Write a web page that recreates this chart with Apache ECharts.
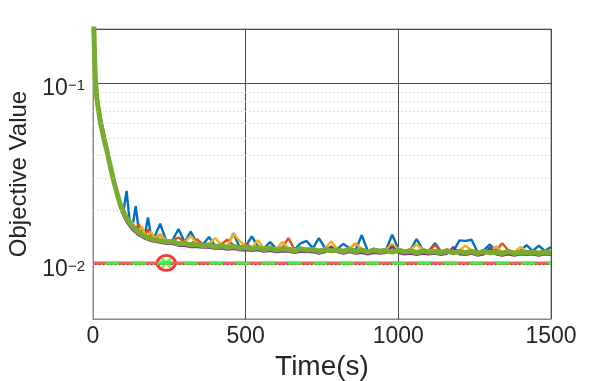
<!DOCTYPE html>
<html>
<head>
<meta charset="utf-8">
<script src="https://cdn.jsdelivr.net/npm/echarts@6/dist/echarts.min.js"></script>
<style>
  html, body { margin: 0; padding: 0; background: #fff; }
  #main { width: 609px; height: 381px; }
</style>
</head>
<body>
<div id="main"></div>
<script>
// 时间轴 (s)
var time = [0, 2, 4, 6, 8, 10, 13, 16, 20, 25, 30, 35, 40, 45, 50, 55, 60, 70, 80, 90,
  100, 110, 120, 130, 140, 150, 160, 170, 180, 190, 200,
  220, 240, 260, 280, 300, 320, 340, 360, 380, 400, 420, 440, 460, 480, 500, 520, 540, 560, 580, 600,
  620, 640, 660, 680, 700, 720, 740, 760, 780, 800, 820, 840, 860, 880, 900, 920, 940, 960, 980, 1000,
  1020, 1040, 1060, 1080, 1100, 1120, 1140, 1160, 1180, 1200, 1220, 1240, 1260, 1280, 1300,
  1320, 1340, 1360, 1380, 1400, 1420, 1440, 1460, 1480, 1500];

var blueVals = [0.32, 0.22, 0.17, 0.126, 0.105, 0.094, 0.083, 0.076, 0.069, 0.061, 0.056, 0.051, 0.047, 0.044, 0.040, 0.037, 0.034, 0.029, 0.0248, 0.0216,
  0.0198, 0.0255, 0.0174, 0.0165, 0.0210, 0.0153, 0.0150, 0.0147, 0.0182, 0.0143, 0.0140,
  0.0168, 0.0135, 0.0136, 0.0157, 0.0133, 0.0152, 0.0131, 0.0129, 0.0142, 0.0127,
  0.0129, 0.0126, 0.0149, 0.0125, 0.0126, 0.0143, 0.0126, 0.0123, 0.0133, 0.0122,
  0.0124, 0.0123, 0.0121, 0.0131, 0.0135, 0.0123, 0.0140, 0.0123, 0.0121, 0.0122,
  0.0130, 0.0123, 0.0120, 0.0145, 0.0119, 0.0122, 0.0120, 0.0121, 0.0146, 0.0122,
  0.0119, 0.0121, 0.0138, 0.0121, 0.0119, 0.0131, 0.0118, 0.0121, 0.0118, 0.0136,
  0.0135, 0.0137, 0.0117, 0.0120, 0.0129, 0.0119, 0.0117, 0.0120, 0.0117, 0.0119,
  0.0128, 0.0119, 0.0127, 0.0119, 0.0125];

var orangeVals = [0.32, 0.22, 0.17, 0.126, 0.105, 0.094, 0.083, 0.076, 0.069, 0.061, 0.056, 0.051, 0.047, 0.044, 0.040, 0.037, 0.034, 0.029, 0.0250, 0.0218,
  0.0196, 0.0184, 0.0176, 0.0163, 0.0156, 0.0168, 0.0148, 0.0145, 0.0156, 0.0141, 0.0139,
  0.0146, 0.0135, 0.0136, 0.0141, 0.0133, 0.0130, 0.0138, 0.0129, 0.0130, 0.0127,
  0.0129, 0.0137, 0.0128, 0.0125, 0.0130, 0.0124, 0.0126, 0.0123, 0.0125, 0.0122,
  0.0124, 0.0140, 0.0121, 0.0124, 0.0122, 0.0123, 0.0120, 0.0123, 0.0121, 0.0122,
  0.0120, 0.0123, 0.0130, 0.0122, 0.0119, 0.0122, 0.0120, 0.0121, 0.0119, 0.0122,
  0.0119, 0.0121, 0.0118, 0.0121, 0.0119, 0.0128, 0.0118, 0.0121, 0.0118, 0.0120,
  0.0118, 0.0120, 0.0117, 0.0120, 0.0118, 0.0119, 0.0131, 0.0120, 0.0117, 0.0119,
  0.0118, 0.0119, 0.0117, 0.0119, 0.0118];

var yellowVals = [0.32, 0.22, 0.175, 0.128, 0.107, 0.095, 0.084, 0.077, 0.070, 0.062, 0.057, 0.053, 0.049, 0.045, 0.041, 0.038, 0.034, 0.029, 0.0252, 0.0220,
  0.0200, 0.0186, 0.0172, 0.0170, 0.0158, 0.0154, 0.0162, 0.0147, 0.0144, 0.0152, 0.0140,
  0.0148, 0.0135, 0.0136, 0.0132, 0.0133, 0.0144, 0.0131, 0.0129, 0.0130, 0.0140,
  0.0129, 0.0126, 0.0148, 0.0135, 0.0126, 0.0124, 0.0136, 0.0123, 0.0125, 0.0122,
  0.0133, 0.0123, 0.0121, 0.0124, 0.0122, 0.0123, 0.0120, 0.0123, 0.0134, 0.0122,
  0.0120, 0.0123, 0.0131, 0.0122, 0.0119, 0.0122, 0.0120, 0.0121, 0.0130, 0.0122,
  0.0119, 0.0121, 0.0129, 0.0121, 0.0119, 0.0120, 0.0118, 0.0121, 0.0118, 0.0120,
  0.0127, 0.0120, 0.0117, 0.0120, 0.0118, 0.0126, 0.0117, 0.0120, 0.0117, 0.0125,
  0.0118, 0.0119, 0.0117, 0.0119, 0.0118];

var purpleVals = [0.33, 0.23, 0.18, 0.135, 0.112, 0.100, 0.089, 0.081, 0.073, 0.065, 0.059, 0.054, 0.049, 0.045, 0.041, 0.037, 0.034, 0.0280, 0.0236, 0.0205,
  0.0186, 0.0172, 0.0163, 0.0155, 0.0150, 0.0145, 0.0142, 0.0139, 0.0137, 0.0135, 0.0134,
  0.0132, 0.0130, 0.0130, 0.0127, 0.0127, 0.0125, 0.0125, 0.0124, 0.0124, 0.0122,
  0.0123, 0.0121, 0.0122, 0.0120, 0.0120, 0.0119, 0.0120, 0.0118, 0.0119, 0.0117,
  0.0118, 0.0118, 0.0116, 0.0118, 0.0117, 0.0117, 0.0115, 0.0117, 0.0126, 0.0117,
  0.0115, 0.0117, 0.0115, 0.0116, 0.0114, 0.0116, 0.0115, 0.0116, 0.0126, 0.0116,
  0.0114, 0.0115, 0.0113, 0.0115, 0.0114, 0.0115, 0.0113, 0.0115, 0.0125, 0.0114,
  0.0113, 0.0115, 0.0112, 0.0114, 0.0124, 0.0114, 0.0112, 0.0114, 0.0112, 0.0114,
  0.0113, 0.0114, 0.0112, 0.0114, 0.0113];

var greenVals = [0.32, 0.22, 0.17, 0.125, 0.104, 0.093, 0.082, 0.075, 0.068, 0.060, 0.055, 0.050, 0.046, 0.043, 0.039, 0.036, 0.033, 0.028, 0.0243, 0.0212,
  0.0194, 0.0180, 0.0170, 0.0162, 0.0155, 0.0150, 0.0146, 0.0143, 0.0140, 0.0139, 0.0137,
  0.0136, 0.0133, 0.0134, 0.0130, 0.0131, 0.0128, 0.0129, 0.0127, 0.0128, 0.0125,
  0.0127, 0.0124, 0.0126, 0.0123, 0.0124, 0.0122, 0.0124, 0.0121, 0.0123, 0.0120,
  0.0122, 0.0121, 0.0119, 0.0122, 0.0120, 0.0121, 0.0118, 0.0121, 0.0119, 0.0120,
  0.0118, 0.0121, 0.0118, 0.0120, 0.0117, 0.0120, 0.0118, 0.0119, 0.0117, 0.0120,
  0.0117, 0.0119, 0.0116, 0.0119, 0.0117, 0.0118, 0.0116, 0.0119, 0.0116, 0.0118,
  0.0116, 0.0118, 0.0115, 0.0118, 0.0116, 0.0117, 0.0115, 0.0118, 0.0115, 0.0117,
  0.0116, 0.0117, 0.0115, 0.0117, 0.0116];

// 参考最优值 (红绿虚线) 及标记点
var refTime = [0, 1500];
var refValue = 0.0102;
var markTime = [240];
var markValue = [0.0102];

// 次网格线位置
var minorLevels = [0.006, 0.007, 0.008, 0.009, 0.02, 0.03, 0.04, 0.05, 0.06, 0.07, 0.08, 0.09];

var FONT = 'Liberation Sans, Arial, Helvetica, sans-serif';
var TXT = '#262626';

function pairs(xs, ys) {
  return xs.map(function (x, i) { return [x, ys[i]]; });
}

function curve(vals, color, width) {
  return {
    type: 'line',
    data: pairs(time, vals),
    showSymbol: false,
    symbol: 'none',
    clip: true,
    animation: false,
    emphasis: { disabled: true },
    lineStyle: { color: color, width: width }
  };
}

var chart = echarts.init(document.getElementById('main'));

chart.setOption({
  animation: false,
  backgroundColor: '#ffffff',
  grid: {
    left: 93, right: 58, top: 29, bottom: 62,
    show: true, borderColor: '#8a8a8a', borderWidth: 1,
    containLabel: false, outerBoundsMode: 'none'
  },
  xAxis: {
    type: 'value',
    min: 0, max: 1500, interval: 500,
    axisLine: { show: true, lineStyle: { color: '#8a8a8a' } },
    axisTick: { show: false },
    axisLabel: {
      fontSize: 23, color: TXT, fontFamily: FONT, margin: 6,
      formatter: function (v) { return String(v); }
    },
    splitLine: { show: true, lineStyle: { color: '#4a4a4a', width: 1 } },
    name: 'Time(s)', nameLocation: 'middle', nameGap: 26,
    nameTextStyle: { fontSize: 28, color: TXT, fontFamily: FONT }
  },
  yAxis: {
    type: 'log', logBase: 10,
    min: 0.005, max: 0.2,
    axisLine: { show: true, lineStyle: { color: '#8a8a8a' } },
    axisTick: { show: false },
    axisLabel: {
      margin: 8,
      fontSize: 23, color: TXT, fontFamily: FONT,
      padding: [11, 0, 0, 0],
      formatter: function (v) {
        var l = Math.log10(v);
        var e = Math.round(l);
        if (Math.abs(l - e) > 1e-6) return '';
        return '{b|10}{s|' + String(e).replace('-', '\u2212') + '}';
      },
      rich: {
        b: { fontSize: 23, lineHeight: 22, color: TXT, fontFamily: FONT },
        s: { fontSize: 15, lineHeight: 15, verticalAlign: 'top', color: TXT, fontFamily: FONT }
      }
    },
    splitLine: { show: true, lineStyle: { color: '#4a4a4a', width: 1 } },
    name: 'Objective Value', nameLocation: 'middle', nameGap: 62,
    nameTextStyle: { fontSize: 24, color: TXT, fontFamily: FONT }
  },
  series: [
    {
      type: 'line', data: [], z: 1, silent: true,
      markLine: {
        silent: true, symbol: ['none', 'none'], animation: false,
        label: { show: false },
        emphasis: { disabled: true },
        lineStyle: { color: '#c4c4c4', type: [1, 3], width: 1 },
        data: minorLevels.map(function (v) { return { yAxis: v }; })
      }
    },
    curve(blueVals, '#0072BD', 2.4),
    curve(orangeVals, '#D95319', 2.4),
    curve(yellowVals, '#EDB120', 2.4),
    curve(purpleVals, '#7E2F8E', 2.4),
    curve(greenVals, '#77AC30', 5),
    {
      type: 'line', data: pairs(refTime, [refValue, refValue]),
      symbol: 'none', animation: false, emphasis: { disabled: true },
      lineStyle: { color: '#ff5a5a', width: 3 }
    },
    {
      type: 'line', data: pairs(refTime, [refValue, refValue]),
      symbol: 'none', animation: false, emphasis: { disabled: true },
      lineStyle: { color: '#40f040', width: 3, type: [13, 13], dashOffset: 13 }
    },
    {
      type: 'scatter', data: pairs(markTime, markValue),
      symbol: 'path://M0,0L10,10M10,0L0,10', symbolSize: 9,
      animation: false, emphasis: { disabled: true },
      itemStyle: { color: 'none', borderColor: '#30ff30', borderWidth: 3 }
    },
    {
      type: 'scatter', data: pairs(markTime, markValue),
      symbol: 'circle', symbolSize: [18, 15],
      animation: false, emphasis: { disabled: true },
      itemStyle: { color: 'rgba(0,0,0,0)', borderColor: '#ff0000', borderWidth: 3 }
    }
  ]
});
</script>
</body>
</html>
